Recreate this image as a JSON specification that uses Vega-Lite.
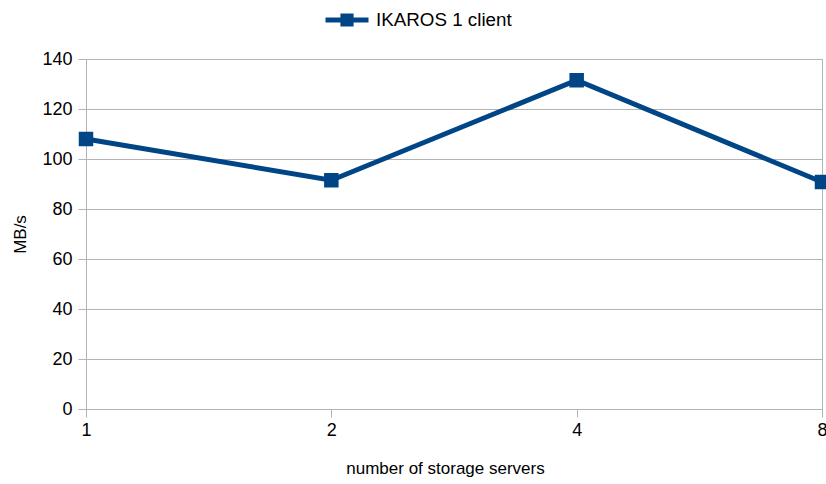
{
  "$schema": "https://vega.github.io/schema/vega-lite/v6.json",
  "width": 736,
  "height": 350,
  "autosize": {"type": "none"},
  "padding": {"left": 86, "top": 59, "right": 4, "bottom": 75},
  "background": "white",
  "config": {
    "font": "Liberation Sans",
    "view": {"stroke": "#b3b3b3", "strokeWidth": 1},
    "axis": {
      "gridColor": "#b3b3b3",
      "domainColor": "#b3b3b3",
      "tickColor": "#b3b3b3",
      "labelColor": "#000000",
      "titleColor": "#000000",
      "labelFont": "Liberation Sans",
      "titleFont": "Liberation Sans",
      "labelFontSize": 18,
      "titleFontSize": 17,
      "titleFontWeight": "normal",
      "tickSize": 8
    }
  },
  "data": {
    "values": [
      {"servers": "1", "mbps": 108, "series": "IKAROS 1 client"},
      {"servers": "2", "mbps": 91.5, "series": "IKAROS 1 client"},
      {"servers": "4", "mbps": 131.5, "series": "IKAROS 1 client"},
      {"servers": "8", "mbps": 90.8, "series": "IKAROS 1 client"}
    ]
  },
  "mark": {
    "type": "line",
    "strokeWidth": 5,
    "point": {"shape": "square", "size": 210, "filled": true, "opacity": 1}
  },
  "encoding": {
    "x": {
      "field": "servers",
      "type": "ordinal",
      "sort": null,
      "scale": {"type": "point", "padding": 0},
      "axis": {
        "title": "number of storage servers",
        "labelAngle": 0,
        "grid": false,
        "labelPadding": 4,
        "titlePadding": 22,
        "titleX": 359,
        "titleY": 51,
        "titleAlign": "center",
        "titleBaseline": "top",
        "labelFlush": false
      }
    },
    "y": {
      "field": "mbps",
      "type": "quantitative",
      "scale": {"domain": [0, 140], "nice": false},
      "axis": {
        "title": "MB/s",
        "values": [0, 20, 40, 60, 80, 100, 120, 140],
        "grid": true,
        "labelPadding": 6,
        "titlePadding": 12
      }
    },
    "color": {
      "field": "series",
      "type": "nominal",
      "scale": {"range": ["#004586"]},
      "legend": {
        "title": null,
        "orient": "none",
        "legendX": 237,
        "legendY": -63,
        "symbolType": "M-1,0H1M-0.19,-0.19H0.19V0.19H-0.19Z",
        "symbolSize": 1849,
        "symbolStrokeWidth": 5,
        "symbolStrokeColor": "#004586",
        "symbolFillColor": "#004586",
        "labelFontSize": 18.8,
        "labelFont": "Liberation Sans",
        "labelColor": "#000000",
        "labelOffset": 5
      }
    }
  }
}
